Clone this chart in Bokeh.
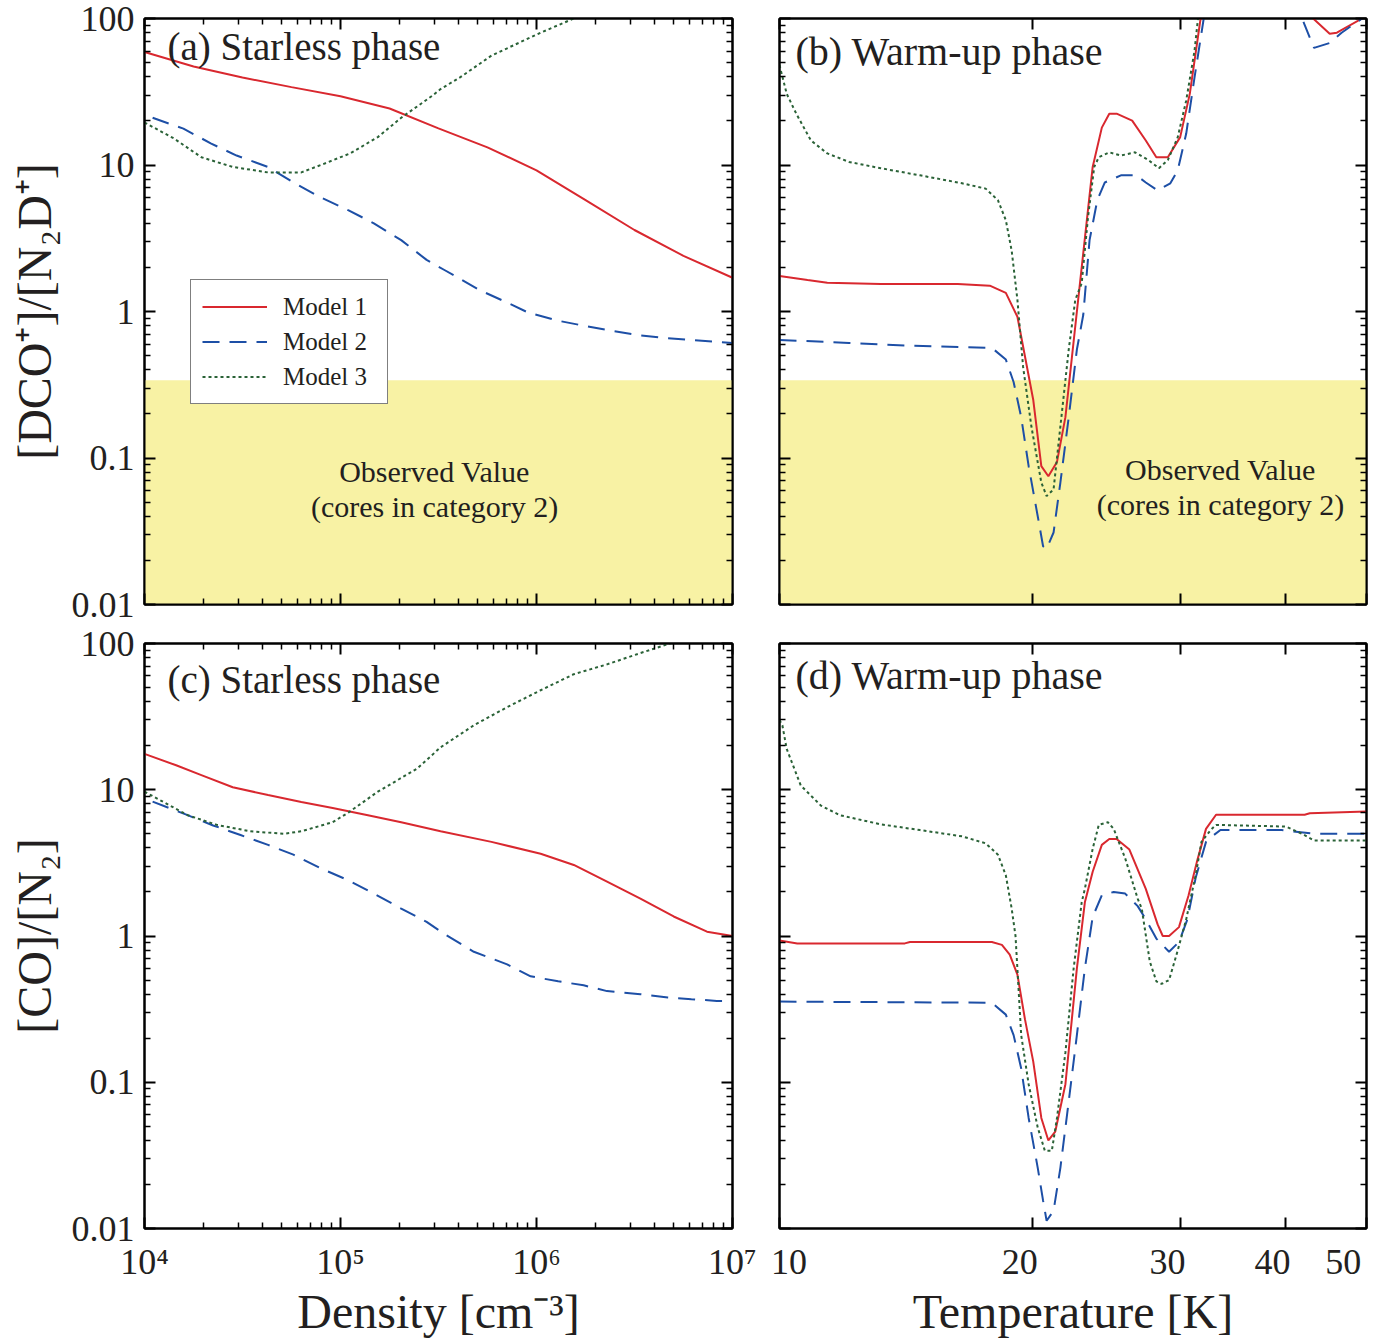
from bokeh.plotting import figure
from bokeh.models import FixedTicker, LogAxis, Label, Legend, LegendItem, BoxAnnotation, Range1d
from bokeh.layouts import gridplot
from bokeh.embed import file_html
from bokeh.resources import INLINE

FONT = "Liberation Serif"
TXT = "#231f20"
RED = "#d9282f"
BLUE = "#1d4fa6"
GREEN = "#2a6237"

# ---------------- data ----------------
# (a) [DCO+]/[N2D+] vs density, starless phase
a_m1_n = [1.0e4, 1.78e4, 3.16e4, 5.62e4, 1.0e5, 1.78e5, 3.16e5, 5.62e5, 1.0e6, 1.78e6, 3.16e6, 5.62e6, 1.0e7]
a_m1_v = [59, 47, 39.5, 34, 29.5, 24.3, 17.8, 13.2, 9.2, 5.75, 3.6, 2.4, 1.7]
a_m2_n = [1.1e4, 1.58e4, 2.19e4, 2.95e4, 4.27e4, 5.75e4, 7.94e4, 1.1e5, 1.48e5, 2.04e5, 2.75e5, 3.39e5,
          5.13e5, 7.08e5, 9.12e5, 1.29e6, 1.74e6, 2.4e6, 3.31e6, 4.47e6, 6.17e6, 8.32e6, 1.0e7]
a_m2_v = [21, 17.7, 14, 11.6, 9.7, 7.6, 6.0, 4.9, 4.0, 3.07, 2.25, 1.92, 1.4, 1.15, 0.98, 0.865, 0.80,
          0.74, 0.69, 0.66, 0.64, 0.62, 0.61]
a_m3_n = [1.0e4, 1.41e4, 1.95e4, 2.82e4, 4.27e4, 6.31e4, 7.94e4, 1.12e5, 1.55e5, 2.04e5, 2.95e5, 3.24e5,
          4.07e5, 5.89e5, 1.05e6, 1.55e6, 2.51e6]
a_m3_v = [19.5, 15.2, 11.3, 9.7, 8.9, 8.9, 10, 12, 15.5, 21, 29.8, 33, 39.6, 55.8, 80, 100, 140]

# (c) [CO]/[N2] vs density, starless phase
c_m1_n = [1.0e4, 1.45e4, 1.95e4, 2.82e4, 4.27e4, 6.31e4, 9.12e4, 1.38e5, 2.04e5, 3.24e5, 5.89e5, 1.05e6,
          1.55e6, 2.29e6, 3.39e6, 5.01e6, 7.41e6, 1.0e7]
c_m1_v = [17.6, 14.7, 12.6, 10.4, 9.2, 8.25, 7.5, 6.7, 6.0, 5.2, 4.4, 3.65, 3.06, 2.35, 1.8, 1.36, 1.07, 1.0]
c_m2_n = [1.1e4, 1.66e4, 2.24e4, 3.09e4, 4.27e4, 5.75e4, 7.94e4, 1.1e5, 1.48e5, 2.04e5, 2.75e5, 3.39e5,
          4.79e5, 7.08e5, 9.33e5, 1.29e6, 1.74e6, 2.29e6, 3.39e6, 4.68e6, 6.17e6, 8.32e6, 1.0e7]
c_m2_v = [8.3, 6.7, 5.7, 4.9, 4.2, 3.6, 2.9, 2.4, 1.95, 1.54, 1.25, 1.03, 0.78, 0.64, 0.53, 0.49, 0.46,
          0.42, 0.40, 0.38, 0.37, 0.36, 0.36]
c_m3_n = [1.0e4, 1.66e4, 2.34e4, 3.47e4, 5.13e4, 6.31e4, 9.12e4, 1.1e5, 1.55e5, 2.45e5, 3.24e5, 4.79e5,
          7.08e5, 1.05e6, 1.55e6, 2.29e6, 3.39e6, 4.79e6, 7.94e6]
c_m3_v = [9.7, 6.7, 5.75, 5.2, 5.0, 5.2, 6.0, 7.0, 9.7, 13.9, 19.5, 27.6, 36.7, 47.9, 61.7, 72, 86, 100, 130]

# (b) [DCO+]/[N2D+] vs temperature, warm-up phase
b_m1_t = [10.0, 10.8, 11.4, 13.2, 16.3, 17.8, 18.6, 19.2, 20.05, 20.5, 20.9, 21.4, 21.9, 22.6, 23.6, 24.2,
          24.7, 25.2, 26.3, 27.3, 28.1, 29.0, 30.0, 30.8, 31.7, 33.0, 40.0, 43.2, 45.2, 46.1, 49.4, 50.0]
b_m1_v = [1.75, 1.64, 1.57, 1.54, 1.54, 1.5, 1.34, 0.92, 0.25, 0.088, 0.075, 0.094, 0.19, 1.0, 9.7, 18,
          22.4, 22.4, 20.1, 14.7, 11.3, 11.3, 15.5, 30.6, 96.6, 300, 300, 100, 78.6, 80, 100, 105]
b_m2_t = [10.0, 12.1, 14.1, 17.6, 18.0, 18.6, 19.0, 19.4, 19.8, 20.3, 20.6, 20.8, 21.2, 21.6, 22.1, 22.6,
          23.0, 23.4, 23.9, 24.4, 25.5, 26.6, 27.3, 28.2, 29.2, 29.8, 30.5, 31.2, 32.0, 35.0, 40.0, 41.9,
          42.8, 43.3, 45.2, 46.7, 49.4, 50.0]
b_m2_v = [0.64, 0.61, 0.585, 0.565, 0.55, 0.47, 0.33, 0.19, 0.088, 0.040, 0.025, 0.024, 0.031, 0.068, 0.19,
          0.55, 0.95, 3.07, 5.75, 7.6, 8.5, 8.5, 7.6, 6.7, 7.5, 9.2, 16.4, 39.5, 100, 300, 300, 100, 74, 63,
          68, 80, 100, 105]
b_m3_t = [10.0, 10.2, 10.47, 10.9, 11.4, 12.1, 13.2, 14.7, 16.5, 17.6, 18.2, 18.6, 18.9, 19.2, 19.5, 19.95,
          20.5, 20.8, 21.2, 21.6, 22.1, 22.5, 22.9, 23.3, 23.7, 24.0, 24.7, 25.5, 26.5, 27.5, 28.3, 29.0,
          29.8, 30.5, 31.2, 31.5, 33.0, 50.0]
b_m3_v = [48, 30.6, 22.4, 14.7, 12, 10.5, 9.5, 8.5, 7.5, 6.9, 5.75, 4.2, 2.6, 1.2, 0.42, 0.164, 0.068,
          0.055, 0.061, 0.164, 0.55, 1.2, 1.56, 4.4, 9.7, 11.3, 12.2, 11.6, 12.2, 10.8, 9.5, 10.8, 15.5,
          27.6, 60, 100, 300, 300]

# (d) [CO]/[N2] vs temperature, warm-up phase
d_m1_t = [10.0, 10.5, 14.1, 14.3, 17.9, 18.4, 18.8, 19.2, 19.6, 20.05, 20.5, 20.9, 21.3, 21.9, 22.6, 23.1,
          23.6, 24.2, 24.7, 25.2, 26.1, 27.3, 28.2, 28.6, 29.1, 29.9, 30.7, 31.4, 32.2, 33.1, 42.2, 42.8, 50.0]
d_m1_v = [0.93, 0.89, 0.89, 0.91, 0.91, 0.87, 0.745, 0.545, 0.27, 0.139, 0.057, 0.04, 0.046, 0.097, 0.6,
          1.7, 2.75, 4.2, 4.6, 4.6, 3.9, 2.1, 1.2, 1.0, 1.0, 1.15, 1.9, 3.2, 5.4, 6.75, 6.75, 6.9, 7.1]
d_m2_t = [10.0, 17.8, 18.0, 18.6, 19.0, 19.4, 19.8, 20.3, 20.6, 20.8, 21.2, 21.6, 22.1, 22.6, 23.1, 23.6,
          24.2, 25.0, 25.8, 26.7, 27.3, 28.1, 29.1, 29.9, 30.6, 31.3, 32.2, 32.9, 33.5, 39.6, 43.3, 50.0]
d_m2_v = [0.356, 0.35, 0.34, 0.29, 0.21, 0.124, 0.057, 0.026, 0.0155, 0.0113, 0.0132, 0.026, 0.074, 0.21,
          0.6, 1.35, 1.9, 2.0, 1.95, 1.6, 1.3, 0.96, 0.78, 0.91, 1.3, 2.5, 4.4, 4.9, 5.3, 5.3, 5.0, 5.0]
d_m3_t = [10.0, 10.08, 10.2, 10.6, 11.2, 11.8, 13.2, 14.7, 16.5, 17.6, 18.2, 18.6, 18.9, 19.1, 19.4, 19.8,
          20.3, 20.7, 21.1, 21.4, 21.9, 22.4, 22.9, 23.1, 23.6, 24.0, 24.6, 25.0, 25.8, 26.7, 27.0, 27.6,
          28.1, 28.5, 29.1, 29.7, 30.5, 30.8, 31.3, 31.8, 32.7, 33.1, 40.1, 41.9, 43.3, 50.0]
d_m3_v = [30, 27.5, 19, 10.7, 7.8, 6.7, 5.8, 5.3, 4.8, 4.3, 3.6, 2.6, 1.54, 1.0, 0.21, 0.097, 0.049, 0.034,
          0.034, 0.057, 0.16, 0.6, 1.7, 2.1, 3.95, 5.75, 6.0, 5.4, 3.4, 1.8, 1.54, 0.67, 0.49, 0.47, 0.5,
          0.745, 1.3, 1.7, 2.6, 4.4, 5.4, 5.75, 5.6, 5.0, 4.5, 4.5]

observed_upper = 0.34  # upper edge of observed-value band (cores in category 2)

model_names = ["Model 1", "Model 2", "Model 3"]

# ticks
Y_MAJOR = [0.01, 0.1, 1, 10, 100]
Y_MINOR = [k * 10.0 ** e for e in range(-2, 2) for k in range(2, 10)]
Y_LABELS = {0.01: "0.01", 0.1: "0.1", 1: "1", 10: "10", 100: "100"}
N_MAJOR = [1e4, 1e5, 1e6, 1e7]
N_MINOR = [k * 10.0 ** e for e in range(4, 7) for k in range(2, 10)]
N_LABELS = {1e4: "10\u2074", 1e5: "10\u2075", 1e6: "10\u2076", 1e7: "10\u2077"}
T_MAJOR = [10, 20, 30, 40, 50]
T_LABELS = {10: "\u2009\u200910", 20: "20\u2002\u2009", 30: "30\u2002\u2009", 40: "40\u2002\u2009",
            50: "50\u2002\u2009"}

STYLES = [dict(color=RED, line_width=2, line_dash="solid"),
          dict(color=BLUE, line_width=2, line_dash="17 10"),
          dict(color=GREEN, line_width=2, line_dash="3 3")]


def make_fig(xr, w, h, bl, br, bt, bb):
    p = figure(width=w, height=h, x_axis_type="log", y_axis_type="log",
               x_range=xr, y_range=Range1d(0.01, 100),
               output_backend="svg", toolbar_location=None,
               min_border_left=bl, min_border_right=br, min_border_top=bt, min_border_bottom=bb)
    p.grid.visible = False
    p.outline_line_color = "black"
    p.outline_line_width = 2
    p.background_fill_color = "white"
    p.border_fill_color = "white"
    return p


def style_axis(ax, ticks, show_labels, overrides=None, title=None):
    ax.major_tick_in = 11
    ax.major_tick_out = 0
    ax.minor_tick_in = 6
    ax.minor_tick_out = 0
    ax.major_tick_line_width = 2
    ax.minor_tick_line_width = 1.5
    ax.major_tick_line_color = "black"
    ax.minor_tick_line_color = "black"
    ax.axis_line_width = 2
    ax.axis_line_color = "black"
    if show_labels:
        ax.major_label_text_font = FONT
        ax.major_label_text_font_size = "36px"
        ax.major_label_text_color = TXT
        ax.major_label_overrides = overrides
    else:
        ax.major_label_text_font_size = "1px"
        ax.major_label_standoff = 0
        ax.major_label_overrides = {t: "" for t in ticks}
    if title is not None:
        ax.axis_label = title
        ax.axis_label_text_font = FONT
        ax.axis_label_text_font_size = "48px"
        ax.axis_label_text_font_style = "normal"
        ax.axis_label_text_color = TXT


def setup_axes(p, xmaj, xmin, xlab_show, xover, xtitle, ylab_show, ytitle):
    xt = FixedTicker(ticks=xmaj, minor_ticks=xmin)
    yt = FixedTicker(ticks=Y_MAJOR, minor_ticks=Y_MINOR)
    bx = p.xaxis[0]
    ly = p.yaxis[0]
    bx.ticker = xt
    ly.ticker = yt
    top = LogAxis(ticker=xt)
    right = LogAxis(ticker=yt)
    p.add_layout(top, "above")
    p.add_layout(right, "right")
    style_axis(bx, xmaj, xlab_show, xover, xtitle)
    style_axis(ly, Y_MAJOR, ylab_show, Y_LABELS, ytitle)
    style_axis(top, xmaj, False)
    style_axis(right, Y_MAJOR, False)
    if xlab_show:
        bx.major_label_standoff = 13
        bx.axis_label_standoff = 0
    if ylab_show:
        ly.major_label_standoff = 10
        ly.axis_label_standoff = 8


def add_lines(p, xs, ys):
    rs = []
    for x, y, st in zip(xs, ys, STYLES):
        r = p.line(x, y, line_color=st["color"], line_width=st["line_width"], line_dash=st["line_dash"])
        rs.append(r)
    return rs


def add_text(p, x, y, text, size, align="left"):
    p.add_layout(Label(x=x, y=y, text=text, text_font=FONT, text_font_size=size, text_color=TXT,
                       text_align=align, text_baseline="middle"))


LW, RW = 756, 630
TH, BH = 625, 715

pa = make_fig(Range1d(1e4, 1e7), LW, TH, 144, 24, 18, 21)
pb = make_fig(Range1d(10, 50), RW, TH, 23, 20, 18, 21)
pc = make_fig(Range1d(1e4, 1e7), LW, BH, 144, 24, 18, 112)
pd = make_fig(Range1d(10, 50), RW, BH, 23, 20, 18, 112)

setup_axes(pa, N_MAJOR, N_MINOR, False, None, None, True, "[DCO\u207a]/[N\u2082D\u207a]")
setup_axes(pb, T_MAJOR, [], False, None, None, False, None)
setup_axes(pc, N_MAJOR, N_MINOR, True, N_LABELS, "Density [cm\u207b\u00b3]", True, "[CO]/[N\u2082]")
setup_axes(pd, T_MAJOR, [], True, T_LABELS, "Temperature [K]", False, None)

# observed band
for p in (pa, pb):
    p.add_layout(BoxAnnotation(bottom=0.01, top=observed_upper, fill_color="#f8f2a4", fill_alpha=1.0,
                               line_color=None, level="underlay"))

ra = add_lines(pa, [a_m1_n, a_m2_n, a_m3_n], [a_m1_v, a_m2_v, a_m3_v])
add_lines(pb, [b_m1_t, b_m2_t, b_m3_t], [b_m1_v, b_m2_v, b_m3_v])
add_lines(pc, [c_m1_n, c_m2_n, c_m3_n], [c_m1_v, c_m2_v, c_m3_v])
add_lines(pd, [d_m1_t, d_m2_t, d_m3_t], [d_m1_v, d_m2_v, d_m3_v])

legend = Legend(items=[LegendItem(label=nm, renderers=[r]) for nm, r in zip(model_names, ra)],
                location=(46, 200), orientation="vertical",
                border_line_color="black", border_line_width=1.5,
                background_fill_color="white", background_fill_alpha=1.0,
                label_text_font=FONT, label_text_font_size="25px", label_text_color=TXT,
                glyph_width=65, glyph_height=31, label_standoff=16, label_width=93,
                padding=11, spacing=4, margin=0)
pa.add_layout(legend)

# panel titles
add_text(pa, 1.31e4, 64, "(a) Starless phase", "39px")
add_text(pb, 10.45, 60, "(b) Warm-up phase", "40px")
add_text(pc, 1.31e4, 57, "(c) Starless phase", "39px")
add_text(pd, 10.45, 60, "(d) Warm-up phase", "40px")

# observed value notes
add_text(pa, 3.02e5, 0.081, "Observed Value", "30px", "center")
add_text(pa, 3.02e5, 0.047, "(cores in category 2)", "30px", "center")
add_text(pb, 33.5, 0.083, "Observed Value", "30px", "center")
add_text(pb, 33.5, 0.048, "(cores in category 2)", "30px", "center")

grid = gridplot([[pa, pb], [pc, pd]], toolbar_location=None)

open("out.html", "w").write(file_html(grid, INLINE))
